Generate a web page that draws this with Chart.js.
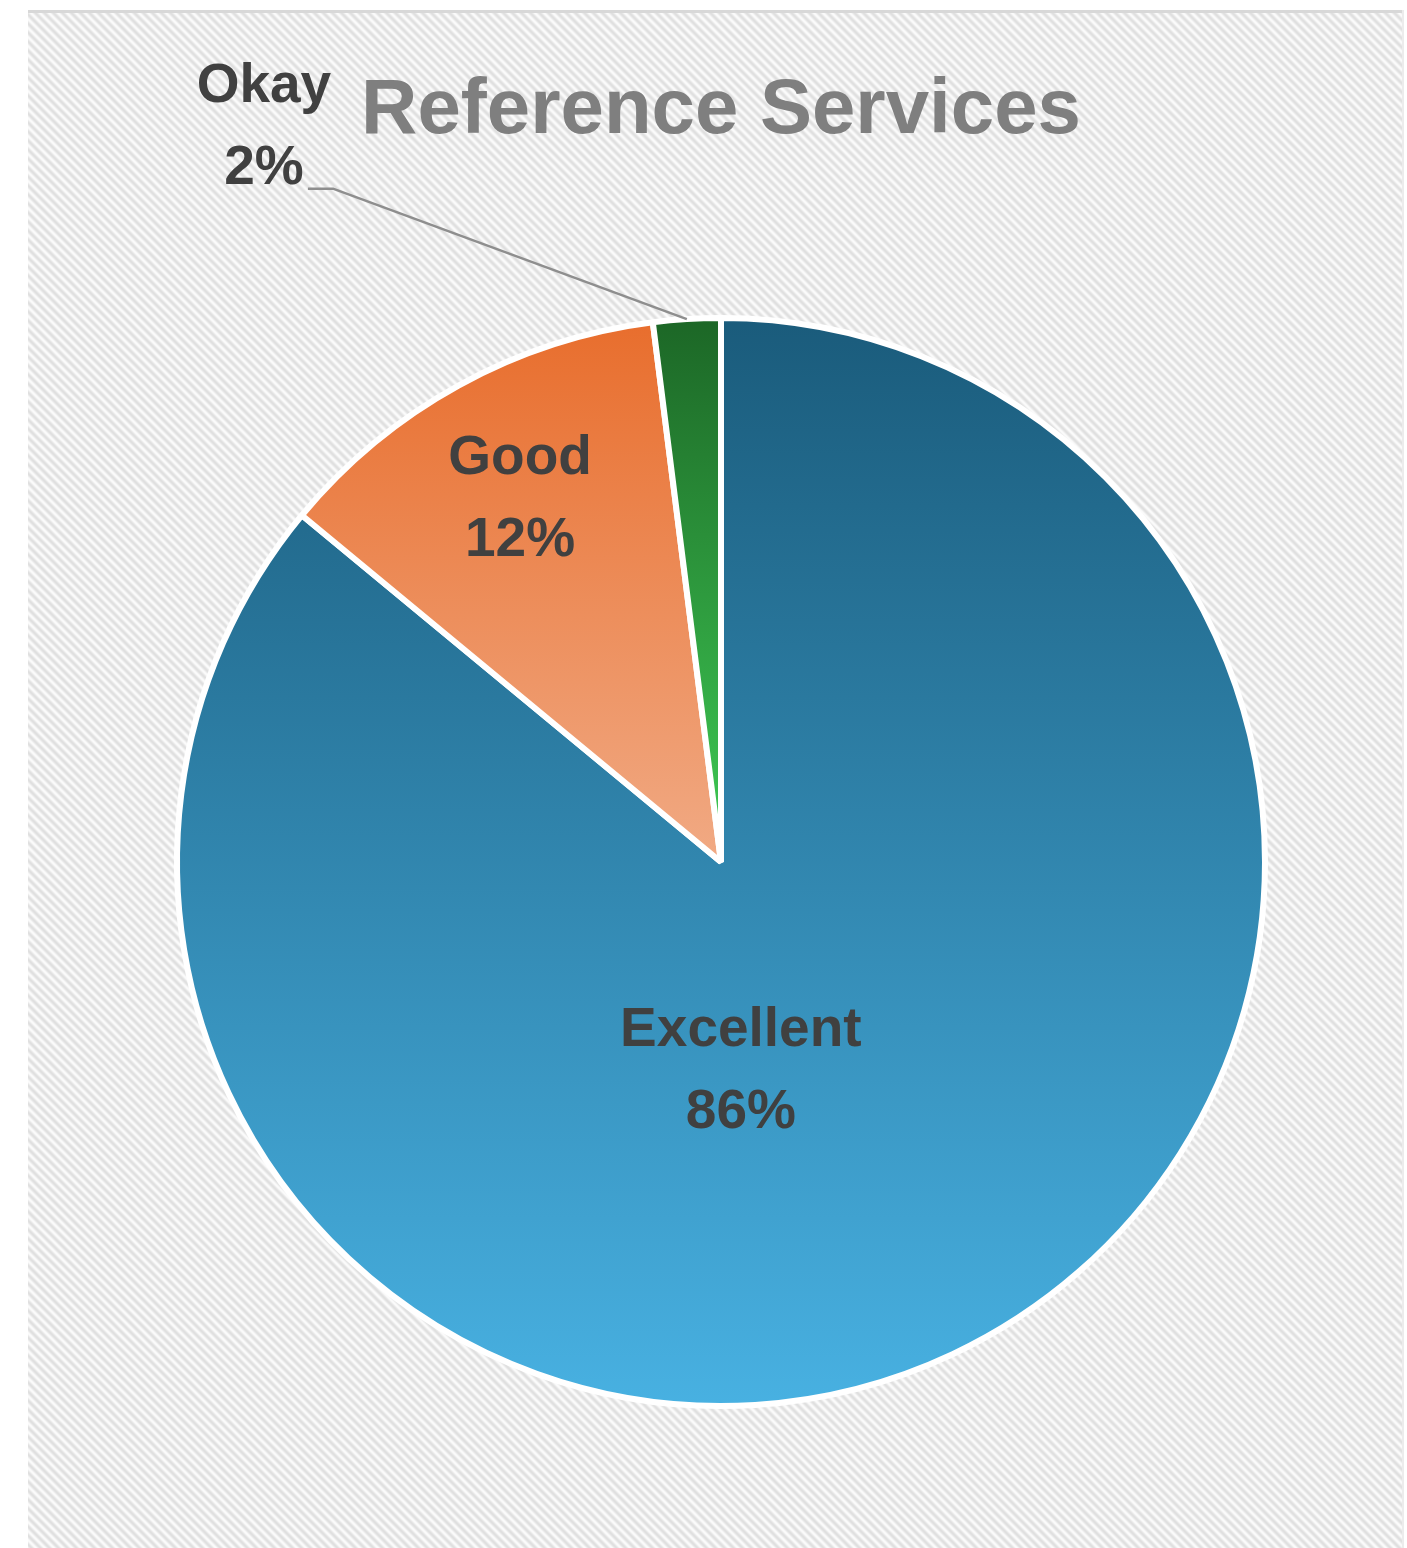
<!DOCTYPE html>
<html>
<head>
<meta charset="utf-8">
<script src="https://cdn.jsdelivr.net/npm/chart.js@4"></script>
<style>
  body { margin: 0; background: #ffffff; }
  #wrap { width: 1407px; height: 1548px; position: relative; }
</style>
</head>
<body>
<div id="wrap"><canvas id="myChart"></canvas></div>
<script>
let ratings = ['Excellent', 'Good', 'Okay'];
let shares = [86, 12, 2];

// gradient stops per slice, top colour then bottom colour
let topColors = ['#1a5b7b', '#e86d2c', '#1c6626'];
let bottomColors = ['#48b1e2', '#f1aa84', '#3fcc55'];

// label anchor around the pie: degrees clockwise from 12 o'clock, radius as a fraction
let labelAngle = [174.6, 331, 328.1];
let labelRadius = [0.388, 0.762, 1.59];

let labelFont = 'bold 55px "Liberation Sans", Arial, sans-serif';
let labelColor = '#404040';

// striped panel behind the chart
function stripeTile() {
  let p = 9;
  let tile = document.createElement('canvas');
  tile.width = p; tile.height = p;
  let tctx = tile.getContext('2d');
  let img = tctx.createImageData(p, p);
  for (let y = 0; y < p; y++) {
    for (let x = 0; x < p; x++) {
      let v = Math.round(237 + 14 * Math.cos(2 * Math.PI * ((x - y + p) % p) / p));
      let i = (y * p + x) * 4;
      img.data[i] = v; img.data[i + 1] = v; img.data[i + 2] = v; img.data[i + 3] = 255;
    }
  }
  tctx.putImageData(img, 0, 0);
  return tile;
}

let panelBackground = {
  id: 'panelBackground',
  beforeDraw(chart) {
    let ctx = chart.ctx;
    ctx.save();
    ctx.fillStyle = ctx.createPattern(stripeTile(), 'repeat');
    ctx.fillRect(28, 10, 1376, chart.height - 10);
    ctx.fillStyle = '#d8d8d8';
    ctx.fillRect(28, 10, 1376, 3);
    ctx.fillStyle = '#ececec';
    ctx.fillRect(1402, 10, 2, chart.height - 10);
    ctx.restore();
  }
};

let sliceLabels = {
  id: 'sliceLabels',
  afterDatasetsDraw(chart) {
    let ctx = chart.ctx;
    let meta = chart.getDatasetMeta(0);
    let total = shares.reduce((a, b) => a + b, 0);
    ctx.save();
    ctx.font = labelFont;
    ctx.fillStyle = labelColor;
    ctx.textAlign = 'center';
    ctx.textBaseline = 'middle';
    meta.data.forEach((arc, i) => {
      let a = (labelAngle[i] - 90) * Math.PI / 180;
      let r = arc.outerRadius * labelRadius[i];
      let x = arc.x + Math.cos(a) * r;
      let y = arc.y + Math.sin(a) * r;
      let pct = Math.round(shares[i] / total * 100) + '%';
      ctx.fillText(ratings[i], x, y - 41);
      ctx.fillText(pct, x, y + 41);

      if (labelRadius[i] > 1) {
        // leader line from the outer edge of the slice to the label
        let mid = (arc.startAngle + arc.endAngle) / 2;
        let ex = arc.x + Math.cos(mid) * arc.outerRadius;
        let ey = arc.y + Math.sin(mid) * arc.outerRadius;
        ctx.strokeStyle = '#8e8e8e';
        ctx.lineWidth = 2.5;
        ctx.lineJoin = 'round';
        ctx.beginPath();
        ctx.moveTo(ex, ey);
        ctx.lineTo(x + 69, y + 61);
        ctx.lineTo(x + 44, y + 61);
        ctx.stroke();
      }
    });
    ctx.restore();
  }
};

function sliceGradient(context) {
  let area = context.chart.chartArea;
  if (!area) return topColors[context.dataIndex];
  let i = context.dataIndex;
  // the two small slices only reach down to the centre
  let bottom = i === 0 ? area.bottom : (area.top + area.bottom) / 2;
  let g = context.chart.ctx.createLinearGradient(0, area.top, 0, bottom);
  g.addColorStop(0, topColors[i]);
  g.addColorStop(1, bottomColors[i]);
  return g;
}

let myChart = document.getElementById('myChart').getContext('2d');

let pieChart = new Chart(myChart, {
  type: 'pie',
  data: {
    labels: ratings,
    datasets: [{
      data: shares,
      backgroundColor: sliceGradient,
      borderColor: '#ffffff',
      borderWidth: 6,
      hoverOffset: 0
    }]
  },
  options: {
    responsive: true,
    maintainAspectRatio: false,
    animation: false,
    layout: {
      padding: { left: 174, right: 139, top: 65, bottom: 139 }
    },
    plugins: {
      legend: { display: false },
      tooltip: { enabled: false },
      title: {
        display: true,
        text: 'Reference Services',
        color: '#7f7f7f',
        font: { family: '"Liberation Sans", Arial, sans-serif', size: 78, weight: 'bold', lineHeight: 1.2 },
        padding: { top: 0, bottom: 156.4 }
      }
    }
  },
  plugins: [panelBackground, sliceLabels]
});
</script>
</body>
</html>
